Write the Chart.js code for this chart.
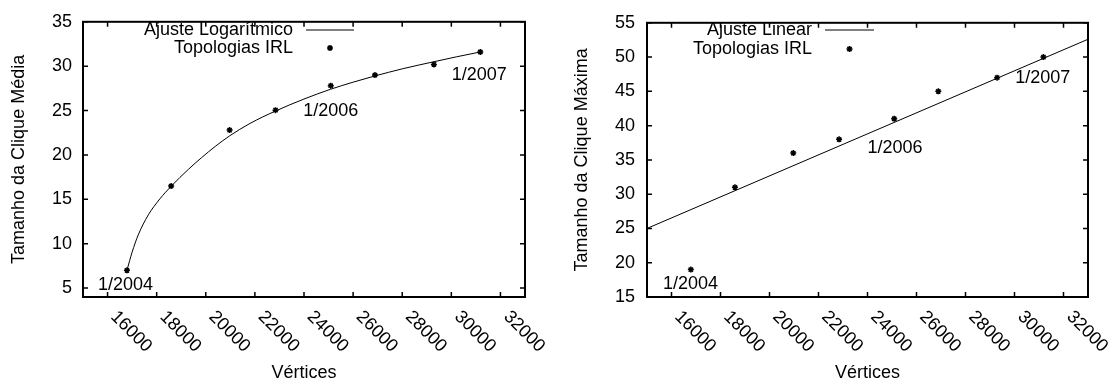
<!DOCTYPE html>
<html>
<head>
<meta charset="utf-8">
<title>Tamanho da Clique</title>
<script src="https://cdn.jsdelivr.net/npm/chart.js@4.4.0/dist/chart.umd.min.js"></script>
<style>
  html, body { margin: 0; padding: 0; background: #fff; }
  #wrap { position: relative; width: 1109px; height: 385px; }
  canvas { position: absolute; top: 0; }
  #cMedia { left: 0; }
  #cMaxima { left: 554px; }
</style>
</head>
<body>
<div id="wrap">
  <canvas id="cMedia" width="554" height="385"></canvas>
  <canvas id="cMaxima" width="555" height="385"></canvas>
</div>
<script>
'use strict';

/* dados */
var vertices = [16790, 18590, 20970, 22840, 25090, 26890, 29290, 31180];
var cliqueMedia = [7.0, 16.5, 22.8, 25.05, 27.8, 29.0, 30.2, 31.6];
var cliqueMaxima = [19, 31, 36, 38, 41, 45, 47, 50];

/* curvas de ajuste */
var ajusteLogX = [16790, 16900, 17000, 17250, 17660, 18130, 18600, 19300, 19830, 20380, 20970, 21800, 22840, 24000, 25080, 26000, 26890, 28000, 29290, 30200, 31180];
var ajusteLogY = [7.0, 8.1, 9.05, 11.0, 13.25, 15.05, 16.5, 18.4, 19.7, 20.95, 22.15, 23.55, 24.95, 26.3, 27.4, 28.2, 28.9, 29.7, 30.5, 31.05, 31.6];
var ajusteLinX = [15000, 33000];
var ajusteLinY = [25.0, 52.6];

/* eixos */
var xTicks = [16000, 18000, 20000, 22000, 24000, 26000, 28000, 30000, 32000];
var yTicksMedia = [5, 10, 15, 20, 25, 30, 35];
var yTicksMaxima = [15, 20, 25, 30, 35, 40, 45, 50, 55];
var datas = ['1/2004', '1/2006', '1/2007'];

var FONTE = '"Liberation Sans", Arial, Helvetica, sans-serif';
Chart.defaults.font.family = FONTE;
Chart.defaults.font.size = 18;
Chart.defaults.color = '#000';

function pares(xs, ys) {
  return xs.map(function(x, i) { return {x: x, y: ys[i]}; });
}

/* moldura estilo gnuplot: borda, tiques para dentro, rotulos inclinados, legenda */
var quadroPlugin = {
  id: 'quadro',
  afterDraw: function(chart, args, opts) {
    var ctx = chart.ctx, a = chart.chartArea;
    var sx = chart.scales.x, sy = chart.scales.y;
    ctx.save();
    ctx.strokeStyle = '#000';
    ctx.fillStyle = '#000';

    ctx.lineWidth = 1.5;
    ctx.beginPath();
    sx.ticks.forEach(function(t) {
      var px = sx.getPixelForValue(t.value);
      ctx.moveTo(px, a.bottom); ctx.lineTo(px, a.bottom - 5);
      ctx.moveTo(px, a.top); ctx.lineTo(px, a.top + 5);
    });
    sy.ticks.forEach(function(t) {
      var py = sy.getPixelForValue(t.value);
      ctx.moveTo(a.left, py); ctx.lineTo(a.left + 5, py);
      ctx.moveTo(a.right, py); ctx.lineTo(a.right - 5, py);
    });
    ctx.stroke();

    ctx.lineWidth = 2;
    ctx.strokeRect(a.left, a.top, a.right - a.left, a.bottom - a.top);

    ctx.font = '18px ' + FONTE;
    ctx.textBaseline = 'middle';
    ctx.textAlign = 'left';
    // rotulos do eixo x, rodados -45 como no gnuplot
    sx.ticks.forEach(function(t) {
      var px = sx.getPixelForValue(t.value);
      ctx.save();
      ctx.translate(px + 6, a.bottom + 17);
      ctx.rotate(Math.PI / 4);
      ctx.fillText(String(t.value), 0, 0);
      ctx.restore();
    });

    // datas junto aos pontos
    opts.rotulos.forEach(function(r, i) {
      ctx.fillText(datas[i], sx.getPixelForValue(r[0]), sy.getPixelForValue(r[1]));
    });

    // legenda
    var k = opts.legenda;
    var dsLinha = chart.data.datasets[1], dsPontos = chart.data.datasets[0];
    ctx.textAlign = 'right';
    ctx.fillText(dsLinha.label, k.textoX, k.y1);
    ctx.fillText(dsPontos.label, k.textoX, k.y2);
    ctx.lineWidth = 1;
    ctx.beginPath();
    ctx.moveTo(k.linha0, k.y1);
    ctx.lineTo(k.linha1, k.y1);
    ctx.stroke();
    ctx.lineWidth = 1.5;
    Chart.helpers.drawPoint(ctx, {pointStyle: 'star', radius: 3, borderWidth: 1.5, rotation: 0}, (k.linha0 + k.linha1) / 2, k.y2);
    ctx.restore();
  }
};

function grafico(id, cfg) {
  var ctx = document.getElementById(id);
  return new Chart(ctx, {
    type: 'scatter',
    data: {
      datasets: [{
        label: 'Topologias IRL',
        data: pares(vertices, cfg.valores),
        showLine: false,
        pointStyle: 'star',
        pointRadius: 3,
        pointBorderWidth: 1.5,
        borderColor: '#000',
        backgroundColor: '#000'
      }, {
        label: cfg.ajusteNome,
        data: pares(cfg.ajusteX, cfg.ajusteY),
        showLine: true,
        pointRadius: 0,
        borderWidth: 1,
        borderColor: '#000',
        cubicInterpolationMode: 'monotone'
      }]
    },
    options: {
      responsive: false,
      animation: false,
      devicePixelRatio: 1,
      layout: { padding: { top: 15, right: cfg.direita, left: 0, bottom: 0 } },
      plugins: {
        legend: { display: false },
        tooltip: { enabled: false },
        quadro: { legenda: cfg.legenda, rotulos: cfg.rotulos }
      },
      scales: {
        x: {
          type: 'linear',
          min: 15000,
          max: 33000,
          grid: { display: false, drawTicks: false },
          border: { display: false },
          ticks: { display: false },
          afterBuildTicks: function(s) { s.ticks = xTicks.map(function(v) { return {value: v}; }); },
          afterFit: function(s) { s.height = 88; },
          title: { display: true, text: 'Vértices', font: { size: 18 }, padding: { top: 0, bottom: 1 } }
        },
        y: {
          type: 'linear',
          min: cfg.yMin,
          max: cfg.yMax,
          grid: { display: false, drawTicks: false },
          border: { display: false },
          ticks: { font: { size: 18 }, padding: cfg.ticPad },
          afterBuildTicks: function(s) { s.ticks = cfg.yTicks.map(function(v) { return {value: v}; }); },
          afterFit: function(s) { s.width = cfg.esquerda; },
          title: { display: true, text: cfg.tituloY, font: { size: 18 }, padding: { top: cfg.tituloPad, bottom: 0 } }
        }
      }
    },
    plugins: [quadroPlugin]
  });
}

grafico('cMedia', {
  valores: cliqueMedia,
  ajusteNome: 'Ajuste Logarítmico',
  ajusteX: ajusteLogX,
  ajusteY: ajusteLogY,
  yMin: 4, yMax: 35, yTicks: yTicksMedia,
  tituloY: 'Tamanho da Clique Média',
  esquerda: 83, direita: 29, ticPad: 11, tituloPad: 8,
  legenda: { textoX: 293, linha0: 306, linha1: 354, y1: 30, y2: 48 },
  rotulos: [[15610, 5.3], [23970, 24.9], [30020, 28.95]]
});

grafico('cMaxima', {
  valores: cliqueMaxima,
  ajusteNome: 'Ajuste Linear',
  ajusteX: ajusteLinX,
  ajusteY: ajusteLinY,
  yMin: 15, yMax: 55, yTicks: yTicksMaxima,
  tituloY: 'Tamanho da Clique Máxima',
  esquerda: 93, direita: 21, ticPad: 12, tituloPad: 17,
  legenda: { textoX: 258, linha0: 271, linha1: 320, y1: 30, y2: 49 },
  rotulos: [[15650, 16.85], [24000, 36.8], [30030, 47.0]]
});
</script>
</body>
</html>
